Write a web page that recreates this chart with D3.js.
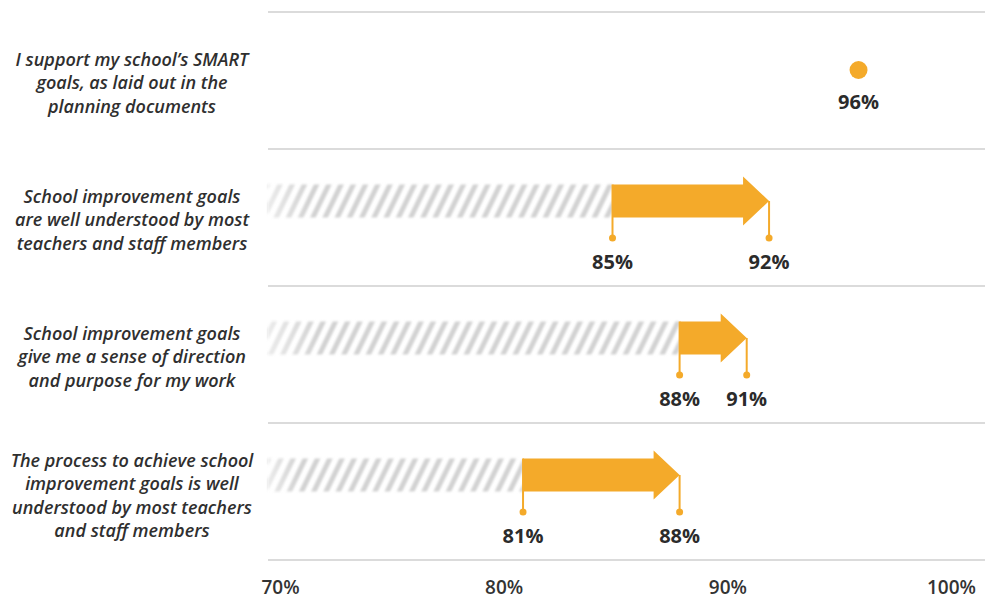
<!DOCTYPE html>
<html>
<head>
<meta charset="utf-8">
<script src="https://cdn.jsdelivr.net/npm/d3@7"></script>
<style>
  html, body { margin: 0; padding: 0; background: #fff; }
  svg { display: block; }
</style>
</head>
<body>
<svg id="chart" width="985" height="601"></svg>
<script>
// Survey statements (one per row) and before/after agreement levels
const statements = [
  ["I support my school\u2019s SMART", "goals, as laid out in the", "planning documents"],
  ["School improvement goals", "are well understood by most", "teachers and staff members"],
  ["School improvement goals", "give me a sense of direction", "and purpose for my work"],
  ["The process to achieve school", "improvement goals is well", "understood by most teachers", "and staff members"]
];
const startValues = [null, 85, 88, 81];   // earlier result (null = single measurement)
const endValues   = [96, 92, 91, 88];     // latest result
const axisTicks   = [70, 80, 90, 100];

const orange = "#F4AA2A";
const svg = d3.select("#chart");

const x = d3.scaleLinear().domain([70, 100]).range([277, 948]);
const rowBand = d3.scaleBand().domain(d3.range(statements.length)).range([12, 560]).paddingInner(0).paddingOuter(0);

// diagonal hatch used for the untouched portion of each row
const defs = svg.append("defs");
const pat = defs.append("pattern")
  .attr("id", "hatch").attr("patternUnits", "userSpaceOnUse")
  .attr("width", 11).attr("height", 11)
  .attr("patternTransform", "rotate(26)");
pat.append("rect").attr("x", 0).attr("y", 0).attr("width", 5).attr("height", 11).attr("fill", "#d2d2d2");
const fade = defs.append("linearGradient").attr("id", "fade").attr("x1", 0).attr("x2", 1);
fade.append("stop").attr("offset", 0).attr("stop-color", "#fff").attr("stop-opacity", 0.55);
fade.append("stop").attr("offset", 0.12).attr("stop-color", "#fff").attr("stop-opacity", 0);
const blur = defs.append("filter").attr("id", "soft");
blur.append("feGaussianBlur").attr("stdDeviation", 0.8);

// horizontal separators
const lines = rowBand.domain().map(i => rowBand(i)).concat([560]);
svg.append("g").selectAll("line").data(lines).join("line")
  .attr("x1", 268).attr("x2", 985)
  .attr("y1", d => d).attr("y2", d => d)
  .attr("stroke", "#cfcfcf").attr("stroke-width", 1.5);

// row labels
const labelG = svg.append("g")
  .attr("font-family", "'Open Sans', sans-serif")
  .attr("font-style", "italic").attr("font-weight", 600)
  .attr("font-size", 18).attr("fill", "#2f2f2f").attr("text-anchor", "middle");
statements.forEach((linesTxt, i) => {
  const cy = rowBand(i) + 71 + (linesTxt.length > 3 ? 2 : 0);
  const lh = 23.5;
  const top = cy - (linesTxt.length - 1) * lh / 2;
  const t = labelG.append("text");
  linesTxt.forEach((s, k) => {
    t.append("tspan").attr("x", 132).attr("y", top + k * lh + 6).text(s);
  });
});

// rows
const valueFmt = v => v + "%";
statements.forEach((_, i) => {
  const g = svg.append("g");
  const top = rowBand(i);
  const cy = top + 52;
  const endV = endValues[i], startV = startValues[i];
  if (startV == null) {
    g.append("circle").attr("cx", x(endV)).attr("cy", top + 58).attr("r", 9).attr("fill", orange);
    g.append("text").attr("x", x(endV)).attr("y", top + 97)
      .attr("text-anchor", "middle").attr("font-family", "'Open Sans', sans-serif")
      .attr("font-weight", 700).attr("font-size", 20).attr("fill", "#2b2b2b")
      .text(valueFmt(endV));
    return;
  }
  const x0 = x(startV), x1 = x(endV);
  const sh = 16.5, hh = 24.5, hl = 26;
  // hatched lead-in
  g.append("rect").attr("x", 268).attr("y", cy - sh).attr("width", x0 - 268).attr("height", sh * 2)
    .attr("fill", "url(#hatch)").attr("filter", "url(#soft)");
  g.append("rect").attr("x", 268).attr("y", cy - sh - 1).attr("width", x0 - 268).attr("height", sh * 2 + 2)
    .attr("fill", "url(#fade)");
  // arrow
  const path = d3.path();
  path.moveTo(x0, cy - sh);
  path.lineTo(x1 - hl, cy - sh);
  path.lineTo(x1 - hl, cy - hh);
  path.lineTo(x1, cy);
  path.lineTo(x1 - hl, cy + hh);
  path.lineTo(x1 - hl, cy + sh);
  path.lineTo(x0, cy + sh);
  path.closePath();
  g.append("path").attr("d", path.toString()).attr("fill", orange);
  // drop lines with end dots
  const dotY = top + 89;
  [[x0, cy - sh], [x1, cy]].forEach(([px, py]) => {
    g.append("line").attr("x1", px).attr("x2", px).attr("y1", py).attr("y2", dotY)
      .attr("stroke", orange).attr("stroke-width", 2);
    g.append("circle").attr("cx", px).attr("cy", dotY).attr("r", 3.5).attr("fill", orange);
  });
  // value labels
  [[x0, startV], [x1, endV]].forEach(([px, v]) => {
    g.append("text").attr("x", px).attr("y", top + 120)
      .attr("text-anchor", "middle").attr("font-family", "'Open Sans', sans-serif")
      .attr("font-weight", 700).attr("font-size", 20).attr("fill", "#2b2b2b")
      .text(valueFmt(v));
  });
});

// bottom axis labels
const axis = d3.axisBottom(x).tickValues(axisTicks).tickFormat(d => d + "%").tickSize(0).tickPadding(0);
const ax = svg.append("g").attr("transform", "translate(3,580)").call(axis);
ax.select(".domain").remove();
ax.selectAll("text")
  .attr("font-family", "'Open Sans', sans-serif").attr("font-weight", 600)
  .attr("font-size", 19).attr("fill", "#333").attr("dy", "0.71em");
</script>
</body>
</html>
